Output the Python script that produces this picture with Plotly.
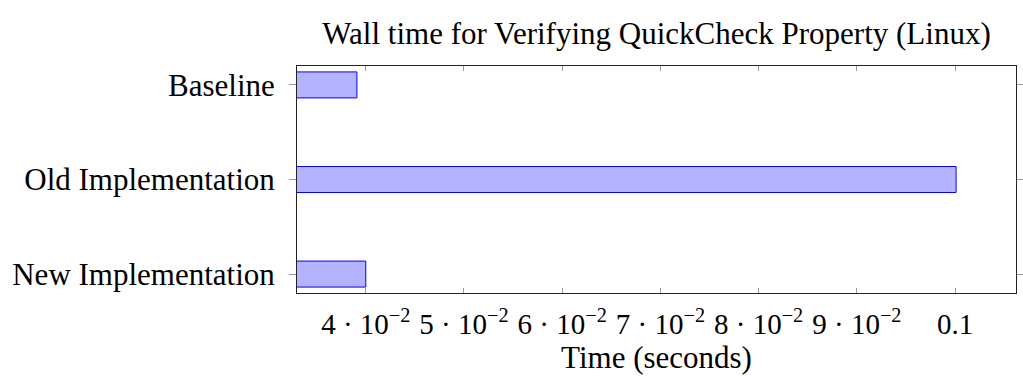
import plotly.graph_objects as go

# Wall-clock timings (seconds) per variant
variants = ["New Implementation", "Old Implementation", "Baseline"]
wall_times = [0.0400, 0.1001, 0.0391]

tick_values = [0.04, 0.05, 0.06, 0.07, 0.08, 0.09, 0.10]
tick_labels = ["4 · 10<sup>−2</sup>", "5 · 10<sup>−2</sup>", "6 · 10<sup>−2</sup>",
               "7 · 10<sup>−2</sup>", "8 · 10<sup>−2</sup>", "9 · 10<sup>−2</sup>", "0.1"]

FONT = "Liberation Serif"

fig = go.Figure(
    go.Bar(
        x=wall_times,
        y=variants,
        orientation="h",
        width=0.275,
        marker=dict(color="rgb(179,179,255)", line=dict(color="rgb(0,0,255)", width=1)),
    )
)

# pgfplots-style 10% padding around the data range
lo, hi = min(wall_times), max(wall_times)
pad = 0.1 * (hi - lo)

fig.update_layout(
    width=1023,
    height=376,
    margin=dict(l=297, r=7, t=66, b=83),
    plot_bgcolor="white",
    paper_bgcolor="white",
    showlegend=False,
    font=dict(family=FONT, color="black", size=31),
    title=dict(
        text="Wall time for Verifying QuickCheck Property (Linux)",
        x=(297 + 1016) / 2 / 1023,
        xanchor="center",
        y=1 - 33 / 376,
        yanchor="middle",
        font=dict(family=FONT, size=31, color="black"),
    ),
)

fig.update_xaxes(
    range=[lo - pad, hi + pad],
    tickvals=tick_values,
    ticktext=tick_labels,
    ticks="inside",
    ticklen=5,
    tickcolor="#999999",
    tickwidth=1,
    showline=True,
    linecolor="#222222",
    linewidth=1,
    mirror="ticks",
    showgrid=False,
    zeroline=False,
    automargin=False,
    ticklabelstandoff=5,
    tickfont=dict(family=FONT, size=29),
    title=dict(text="Time (seconds)", font=dict(family=FONT, size=31), standoff=4),
)

fig.update_yaxes(
    type="category",
    categoryorder="array",
    categoryarray=variants,
    range=[-0.2, 2.2],
    ticks="outside",
    ticklen=7,
    tickcolor="#999999",
    tickwidth=1,
    showline=True,
    linecolor="#222222",
    linewidth=1,
    mirror="ticks",
    showgrid=False,
    automargin=False,
    ticklabelstandoff=8,
    tickfont=dict(family=FONT, size=31),
)

fig.write_html("out.html")
